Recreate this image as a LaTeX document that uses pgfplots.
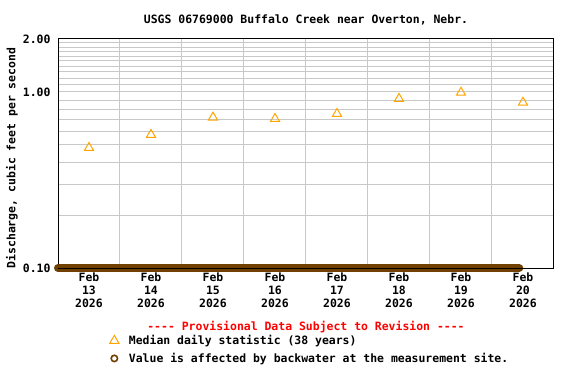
\documentclass[border=0pt]{standalone}
\usepackage{pgfplots}
\pgfplotsset{compat=1.18}
\usepackage{fontspec}
\setmainfont{DejaVu Sans Mono}
\newcommand\cf{\fontsize{11.5}{13}\selectfont\bfseries}
\definecolor{gridc}{RGB}{200,200,200}
\definecolor{bw}{RGB}{112,64,0}
\definecolor{med}{RGB}{255,165,0}
\begin{document}
\begin{tikzpicture}
\begin{axis}[
  at={(58bp,116bp)}, anchor=south west,
  scale only axis, width=496bp, height=229bp,
  xmin=0, xmax=8, ymode=log, ymin=0.1, ymax=2,
  /pgf/number format/assume math mode=true,
  xtick={0.5,1.5,2.5,3.5,4.5,5.5,6.5,7.5},
  xticklabels={{Feb\\13\\2026},{Feb\\14\\2026},{Feb\\15\\2026},{Feb\\16\\2026},{Feb\\17\\2026},{Feb\\18\\2026},{Feb\\19\\2026},{Feb\\20\\2026}},
  xticklabel style={align=center, font=\cf, yshift=-1.5bp},
  major tick length=0, minor tick length=0,
  minor xtick={1,2,3,4,5,6,7}, xminorgrids=true,
  ytick={0.1,1,2}, yticklabels={0.10,1.00,2.00},
  yticklabel style={font=\cf, xshift=-4bp},
  minor ytick={0.2,0.3,0.4,0.5,0.6,0.7,0.8,0.9,1.1,1.2,1.3,1.4,1.5,1.6,1.7,1.8,1.9},
  yminorgrids=true, ymajorgrids=true,
  grid style={draw=gridc, line width=1bp},
  minor grid style={draw=gridc, line width=1bp},
  axis line style={line width=1bp},
  ylabel={Discharge, cubic feet per second},
  ylabel style={font=\cf, at={(axis description cs:-0.0927,0.48)}, anchor=center},
  title={USGS 06769000 Buffalo Creek near Overton, Nebr.},
  title style={font=\cf, at={(axis description cs:0.5,1.058)}, anchor=center},
  clip=false,
  legend style={at={(axis description cs:0.104,-0.284)}, anchor=north west, draw=none, fill=none, font=\cf, inner sep=0pt, row sep=3bp,
    /tikz/every odd column/.append style={column sep=8bp}},
  legend cell align=left,
]
\addplot[only marks, mark=triangle, mark size=5.3, mark options={draw=med, line width=1bp, fill=none}] coordinates {
  (0.5,0.482) (1.5,0.572) (2.5,0.717) (3.5,0.704) (4.5,0.752) (5.5,0.916) (6.5,0.992) (7.5,0.871)
};
\addlegendentry{Median daily statistic (38 years)}
\addplot[forget plot, draw=bw, line width=8bp, line cap=round] coordinates {
  (0,0.1) (1,0.1) (2,0.1) (3,0.1) (4,0.1) (5,0.1) (6,0.1) (7,0.1) (7.44,0.1)
};
\addplot[forget plot, draw=black, line width=1bp] coordinates {(0,0.1) (8,0.1)};
\addlegendimage{only marks, mark=o, mark size=3.2, mark options={draw=bw, line width=1.6bp}}
\addlegendentry{Value is affected by backwater at the measurement site.}
\node[font=\cf, text=red] at (axis description cs:0.5,-0.258) {-{}-{}-{}- Provisional Data Subject to Revision -{}-{}-{}-};
\end{axis}
\pgfresetboundingbox
\path[use as bounding box] (0,0) rectangle (576bp,384bp);
\end{tikzpicture}
\end{document}
